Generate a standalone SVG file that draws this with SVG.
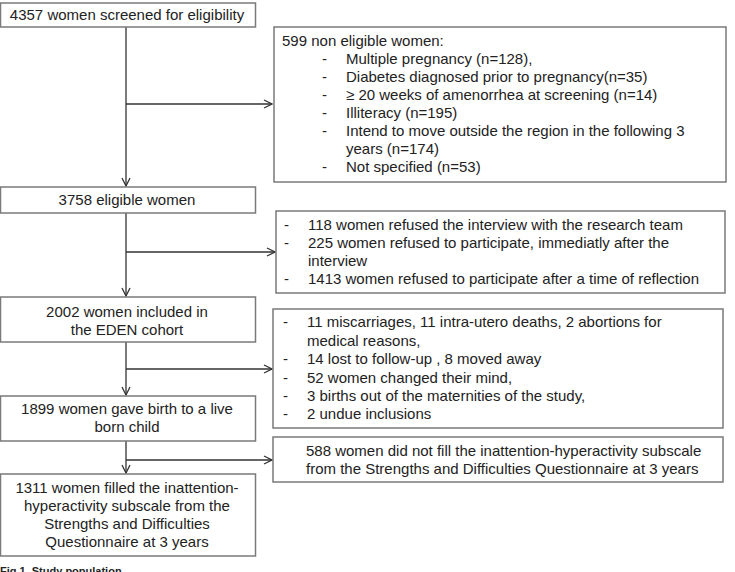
<svg xmlns="http://www.w3.org/2000/svg" width="735" height="572" viewBox="0 0 735 572">
<style>
.box{fill:#fff;stroke:#7a7a7a;stroke-width:1.5}
.t{font-family:"Liberation Sans",Arial,sans-serif;font-size:15px;fill:#222}
.c{text-anchor:middle}
.ln{fill:none;stroke:#333;stroke-width:1.3}
.cap{font-family:"Liberation Sans",Arial,sans-serif;font-size:11px;font-weight:bold;fill:#222}
</style>
<defs>
<marker id="ah" markerWidth="10" markerHeight="10" refX="9" refY="5" orient="auto" markerUnits="userSpaceOnUse">
<path d="M1,1 L9,5 L1,9" fill="none" stroke="#333" stroke-width="1.3"/>
</marker>
</defs>
<rect width="735" height="572" fill="#fff"/>
<g id="connectors">
<line class="ln" x1="126" y1="27" x2="126" y2="186" marker-end="url(#ah)"/>
<line class="ln" x1="126" y1="104" x2="272" y2="104" marker-end="url(#ah)"/>
<line class="ln" x1="126" y1="213" x2="126" y2="296" marker-end="url(#ah)"/>
<line class="ln" x1="126" y1="252" x2="275" y2="252" marker-end="url(#ah)"/>
<line class="ln" x1="126" y1="342" x2="126" y2="395" marker-end="url(#ah)"/>
<line class="ln" x1="126" y1="369" x2="272" y2="369" marker-end="url(#ah)"/>
<line class="ln" x1="126" y1="441" x2="126" y2="473" marker-end="url(#ah)"/>
<line class="ln" x1="126" y1="460" x2="272" y2="460" marker-end="url(#ah)"/>
</g>
<g id="n1">
<rect class="box" x="0.5" y="3" width="255" height="24"/>
<text class="t c" x="127" y="20">4357 women screened for eligibility</text>
</g>
<g id="n2">
<rect class="box" x="274" y="27" width="452" height="155"/>
<text class="t" x="282" y="46">599 non eligible women:</text>
<text class="t" x="322" y="64">-</text><text class="t" x="346" y="64">Multiple pregnancy (n=128),</text>
<text class="t" x="322" y="82">-</text><text class="t" x="346" y="82">Diabetes diagnosed prior to pregnancy(n=35)</text>
<text class="t" x="322" y="100">-</text><text class="t" x="346" y="100">≥ 20 weeks of amenorrhea at screening (n=14)</text>
<text class="t" x="322" y="118">-</text><text class="t" x="346" y="118">Illiteracy (n=195)</text>
<text class="t" x="322" y="136">-</text><text class="t" x="346" y="136">Intend to move outside the region in the following 3</text>
<text class="t" x="346" y="154">years (n=174)</text>
<text class="t" x="322" y="172">-</text><text class="t" x="346" y="172">Not specified (n=53)</text>
</g>
<g id="n3">
<rect class="box" x="0.5" y="187" width="255" height="26"/>
<text class="t c" x="127" y="205">3758 eligible women</text>
</g>
<g id="n4">
<rect class="box" x="276" y="211" width="449" height="82"/>
<text class="t" x="284" y="230">-</text><text class="t" x="308" y="230">118 women refused the interview with the research team</text>
<text class="t" x="284" y="248">-</text><text class="t" x="308" y="248">225 women refused to participate, immediatly after the</text>
<text class="t" x="308" y="266">interview</text>
<text class="t" x="284" y="284">-</text><text class="t" x="308" y="284">1413 women refused to participate after a time of reflection</text>
</g>
<g id="n5">
<rect class="box" x="0.5" y="297" width="255" height="45"/>
<text class="t c" x="127" y="317">2002 women included in</text>
<text class="t c" x="127" y="335">the EDEN cohort</text>
</g>
<g id="n6">
<rect class="box" x="273" y="309" width="450" height="119"/>
<text class="t" x="283" y="327">-</text><text class="t" x="307" y="327">11 miscarriages, 11 intra-utero deaths, 2 abortions for</text>
<text class="t" x="307" y="346">medical reasons,</text>
<text class="t" x="283" y="364">-</text><text class="t" x="307" y="364">14 lost to follow-up , 8 moved away</text>
<text class="t" x="283" y="383">-</text><text class="t" x="307" y="383">52 women changed their mind,</text>
<text class="t" x="283" y="401">-</text><text class="t" x="307" y="401">3 births out of the maternities of the study,</text>
<text class="t" x="283" y="419">-</text><text class="t" x="307" y="419">2 undue inclusions</text>
</g>
<g id="n7">
<rect class="box" x="0.5" y="396" width="255" height="45"/>
<text class="t c" x="127" y="414">1899 women gave birth to a live</text>
<text class="t c" x="127" y="432">born child</text>
</g>
<g id="n8">
<rect class="box" x="273" y="437" width="450" height="45"/>
<text class="t" x="306" y="456">588 women did not fill the inattention-hyperactivity subscale</text>
<text class="t" x="306" y="474">from the Strengths and Difficulties Questionnaire at 3 years</text>
</g>
<g id="n9">
<rect class="box" x="0.5" y="474" width="255" height="82"/>
<text class="t c" x="127" y="493">1311 women filled the inattention-</text>
<text class="t c" x="127" y="511">hyperactivity subscale from the</text>
<text class="t c" x="127" y="529">Strengths and Difficulties</text>
<text class="t c" x="127" y="547">Questionnaire at 3 years</text>
</g>
<text class="cap" x="0" y="575">Fig 1. Study population.</text>
</svg>
